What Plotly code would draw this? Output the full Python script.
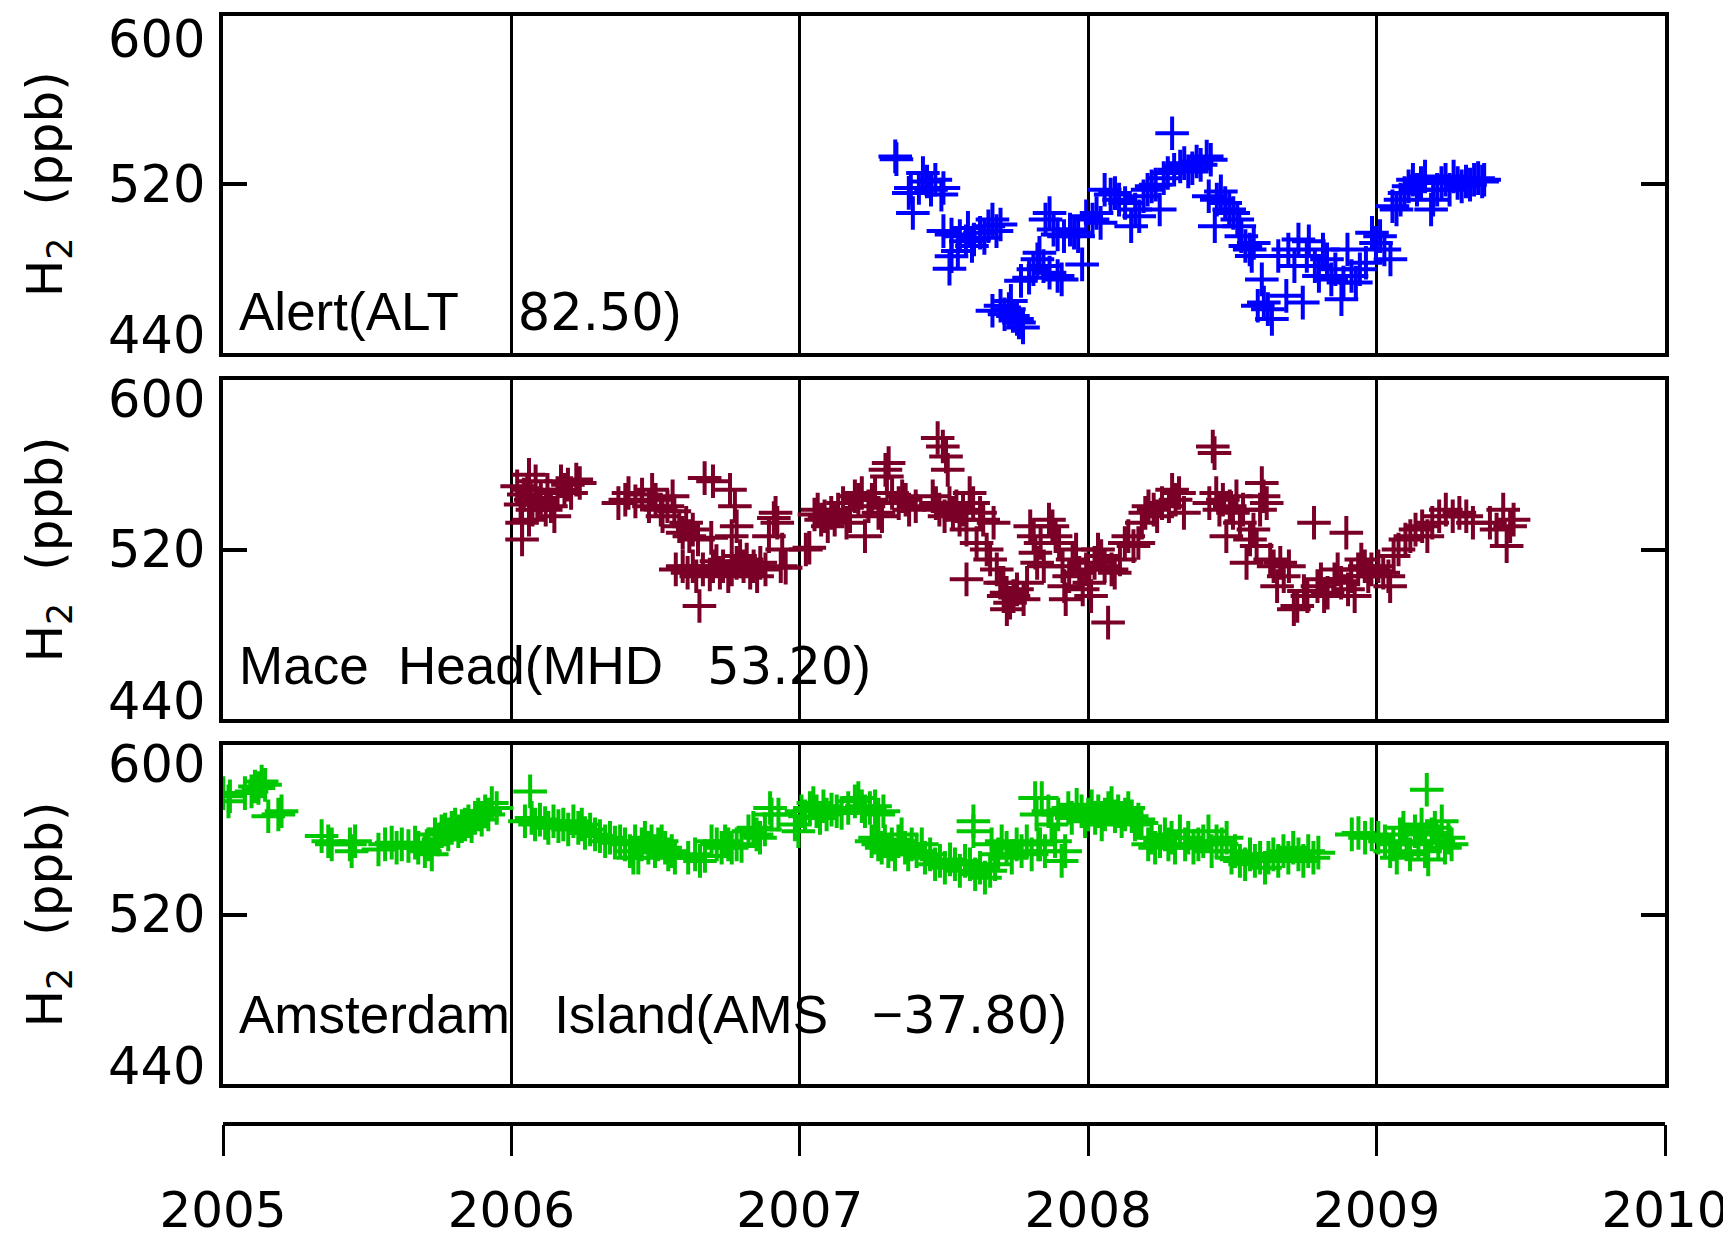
import plotly.graph_objects as go

# ---------------- data (decimal year, H2 ppb) ----------------
alt_year = [2007.335, 2007.331, 2007.385, 2007.378, 2007.427, 2007.441, 2007.470, 2007.491, 2007.392, 2007.413,
            2007.455, 2007.498, 2007.498, 2007.526, 2007.555, 2007.583, 2007.604, 2007.625, 2007.654, 2007.668,
            2007.696, 2007.526, 2007.519, 2007.548, 2007.597, 2007.576, 2007.640, 2007.682, 2007.668, 2007.696,
            2007.725, 2007.739, 2007.753, 2007.710, 2007.774, 2007.732, 2007.760, 2007.767, 2007.795, 2007.810,
            2007.824, 2007.831, 2007.845, 2007.866, 2007.894, 2007.908, 2007.852, 2007.866, 2007.880, 2007.894,
            2007.916, 2007.937, 2007.951, 2007.965, 2007.979, 2007.993, 2008.015, 2008.029, 2008.043, 2008.057,
            2008.078, 2008.093, 2008.107, 2008.128, 2008.149, 2008.163, 2008.177, 2008.192, 2008.206, 2008.220,
            2008.234, 2008.248, 2008.262, 2008.276, 2008.291, 2008.298, 2008.319, 2008.333, 2008.347, 2008.361,
            2008.376, 2008.390, 2008.411, 2008.425, 2008.418, 2008.446, 2008.439, 2008.460, 2008.475, 2008.489,
            2008.503, 2008.517, 2008.524, 2008.531, 2008.545, 2008.560, 2008.567, 2008.574, 2008.602, 2008.609,
            2008.623, 2008.637, 2008.588, 2008.659, 2008.687, 2008.694, 2008.715, 2008.729, 2008.744, 2008.758,
            2008.765, 2008.786, 2008.800, 2008.814, 2008.828, 2008.843, 2008.857, 2008.878, 2008.885, 2008.899,
            2008.913, 2008.928, 2008.942, 2008.963, 2008.984, 2008.998, 2009.012, 2009.027, 2009.048, 2009.055,
            2009.069, 2009.083, 2009.097, 2009.111, 2009.126, 2009.140, 2009.154, 2009.168, 2009.189, 2009.196,
            2009.210, 2009.225, 2009.239, 2009.253, 2009.267, 2009.281, 2009.295, 2009.310, 2009.324, 2009.338,
            2009.352, 2009.366, 2009.373]
alt_h2 = [531.9, 533.2, 518.2, 515.9, 525.3, 521.3, 522.1, 515.1, 506.4, 518.2,
          517.4, 518.2, 497.8, 496.2, 495.4, 499.3, 493.8, 497.0, 500.1, 503.3,
          500.9, 485.9, 480.0, 488.3, 490.7, 493.0, 494.6, 497.8, 460.0, 462.4,
          460.8, 457.6, 456.1, 458.4, 452.1, 464.7, 454.5, 474.2, 475.7, 479.7,
          484.4, 487.5, 481.2, 478.1, 476.5, 474.9, 503.3, 506.4, 498.5, 496.2,
          495.4, 498.5, 497.0, 495.4, 482.0, 504.8, 503.3, 506.4, 501.7, 517.4,
          515.1, 515.8, 512.7, 511.1, 500.1, 508.0, 504.8, 514.3, 517.4, 519.0,
          519.8, 508.0, 522.9, 525.3, 544.2, 526.9, 528.4, 530.0, 526.1, 527.6,
          530.8, 529.2, 533.1, 531.6, 514.3, 512.7, 500.1, 516.6, 511.1, 508.0,
          506.4, 503.3, 500.1, 495.4, 490.7, 489.1, 486.0, 492.2, 474.9, 463.9,
          460.8, 456.1, 462.4, 486.0, 467.1, 489.1, 481.2, 493.8, 463.9, 486.0,
          493.0, 481.2, 476.5, 489.1, 484.4, 474.9, 479.7, 465.5, 473.4, 489.1,
          476.5, 473.4, 479.7, 482.8, 497.0, 492.2, 495.4, 489.1, 484.4, 509.6,
          508.0, 512.7, 515.8, 519.0, 522.1, 517.4, 520.6, 523.7, 508.0, 512.7,
          517.4, 520.6, 522.1, 517.4, 523.7, 520.6, 519.0, 521.3, 519.8, 522.1,
          522.9, 521.3, 522.1]

mhd_year = [2006.020, 2006.032, 2006.043, 2006.055, 2006.061, 2006.067, 2006.073, 2006.084, 2006.090, 2006.102,
            2006.119, 2006.125, 2006.137, 2006.149, 2006.160, 2006.172, 2006.184, 2006.196, 2006.207, 2006.225,
            2006.237, 2006.037, 2006.061, 2006.037, 2006.371, 2006.395, 2006.406, 2006.430, 2006.453, 2006.477,
            2006.488, 2006.500, 2006.518, 2006.524, 2006.541, 2006.559, 2006.565, 2006.582, 2006.594, 2006.606,
            2006.617, 2006.629, 2006.647, 2006.670, 2006.693, 2006.699, 2006.758, 2006.764, 2006.775, 2006.781,
            2006.570, 2006.594, 2006.611, 2006.629, 2006.641, 2006.652, 2006.664, 2006.688, 2006.699, 2006.711,
            2006.723, 2006.734, 2006.752, 2006.764, 2006.781, 2006.793, 2006.805, 2006.816, 2006.828, 2006.840,
            2006.852, 2006.863, 2006.881, 2006.893, 2006.910, 2006.916, 2006.922, 2006.934, 2006.951, 2006.939,
            2007.021, 2007.033, 2007.051, 2007.062, 2007.074, 2007.086, 2007.097, 2007.109, 2007.121, 2007.133,
            2007.150, 2007.162, 2007.174, 2007.191, 2007.203, 2007.215, 2007.226, 2007.238, 2007.250, 2007.261,
            2007.273, 2007.285, 2007.297, 2007.302, 2007.308, 2007.320, 2007.343, 2007.355, 2007.367, 2007.379,
            2007.402, 2007.478, 2007.496, 2007.507, 2007.513, 2007.461, 2007.472, 2007.484, 2007.502, 2007.519,
            2007.531, 2007.543, 2007.554, 2007.566, 2007.578, 2007.589, 2007.601, 2007.613, 2007.625, 2007.636,
            2007.648, 2007.660, 2007.672, 2007.683, 2007.695, 2007.707, 2007.578, 2007.718, 2007.706, 2007.717,
            2007.729, 2007.741, 2007.753, 2007.776, 2007.788, 2007.799, 2007.811, 2007.817, 2007.823, 2007.835,
            2007.846, 2007.864, 2007.876, 2007.887, 2007.899, 2007.911, 2007.917, 2007.922, 2007.934, 2007.946,
            2007.958, 2007.969, 2007.981, 2007.993, 2008.004, 2008.010, 2008.022, 2008.034, 2008.045, 2008.057,
            2008.069, 2008.081, 2008.092, 2008.110, 2008.127, 2008.139, 2008.157, 2008.174, 2008.186, 2008.198,
            2008.209, 2008.227, 2008.239, 2008.256, 2008.280, 2008.291, 2008.303, 2008.315, 2008.332, 2008.432,
            2008.438, 2008.420, 2008.444, 2008.455, 2008.467, 2008.479, 2008.491, 2008.502, 2008.514, 2008.526,
            2008.537, 2008.549, 2008.561, 2008.573, 2008.584, 2008.596, 2008.602, 2008.608, 2008.619, 2008.631,
            2008.643, 2008.655, 2008.666, 2008.678, 2008.696, 2008.713, 2008.725, 2008.748, 2008.760, 2008.783,
            2008.795, 2008.807, 2008.818, 2008.830, 2008.854, 2008.865, 2008.877, 2008.895, 2008.901, 2008.912,
            2008.924, 2008.936, 2008.947, 2008.959, 2008.971, 2008.982, 2009.006, 2009.023, 2009.041, 2009.047,
            2009.059, 2009.076, 2009.100, 2009.117, 2009.135, 2009.158, 2009.176, 2009.193, 2009.217, 2009.240,
            2009.264, 2009.287, 2009.311, 2009.334, 2009.393, 2009.416, 2009.439, 2009.451, 2009.463, 2009.475]
mhd_h2 = [549.8, 541.2, 545.9, 548.2, 555.3, 543.5, 538.8, 552.2, 541.9, 544.3,
          538.8, 548.2, 540.4, 535.7, 546.7, 552.2, 548.2, 550.6, 546.7, 553.0,
          551.4, 532.6, 534.1, 524.7, 541.9, 543.5, 546.7, 542.7, 545.9, 540.4,
          548.2, 543.5, 538.8, 535.7, 540.4, 545.1, 538.0, 531.0, 527.9, 532.6,
          526.3, 529.4, 524.7, 553.7, 525.5, 552.2, 548.2, 526.3, 540.4, 531.0,
          510.6, 512.1, 509.0, 512.1, 507.4, 493.3, 510.6, 508.2, 512.1, 514.5,
          509.0, 512.1, 507.4, 510.6, 513.7, 516.9, 512.1, 515.3, 509.0, 512.1,
          507.4, 513.7, 510.6, 526.3, 534.9, 537.3, 532.6, 512.1, 511.4, 520.0,
          520.0, 520.8, 536.5, 538.8, 534.1, 535.7, 531.0, 537.3, 534.1, 538.8,
          541.9, 532.6, 535.7, 545.1, 543.5, 546.7, 526.3, 540.4, 543.5, 546.7,
          537.3, 535.7, 557.6, 554.5, 560.8, 546.7, 541.9, 545.1, 543.5, 538.8,
          540.4, 572.6, 568.6, 563.9, 557.6, 545.1, 541.9, 538.8, 535.7, 541.9,
          537.3, 540.4, 534.1, 538.8, 529.4, 546.7, 541.9, 523.1, 537.3, 534.1,
          520.0, 515.3, 532.6, 510.6, 504.3, 498.0, 505.9, 491.8, 504.3, 499.6,
          494.9, 498.0, 501.2, 496.5, 504.3, 531.0, 526.3, 518.5, 513.7, 523.1,
          512.1, 534.1, 531.0, 526.3, 523.1, 512.1, 502.7, 496.5, 507.4, 515.3,
          520.0, 509.0, 501.2, 510.6, 504.3, 498.0, 513.7, 520.0, 516.9, 512.1,
          485.5, 510.6, 509.0, 515.3, 523.1, 526.3, 521.6, 523.1, 532.6, 537.3,
          540.4, 538.8, 535.7, 541.9, 540.4, 548.2, 543.5, 546.7, 537.3, 568.6,
          565.5, 541.9, 546.7, 538.8, 543.5, 526.3, 540.4, 537.3, 545.1, 532.6,
          538.8, 513.7, 524.7, 529.4, 521.6, 538.8, 551.4, 545.1, 541.9, 515.3,
          512.1, 502.7, 513.7, 507.4, 512.1, 491.8, 493.3, 500.4, 498.0, 532.6,
          502.7, 505.9, 498.0, 499.6, 505.9, 510.6, 504.3, 527.9, 501.2, 507.4,
          498.0, 510.6, 515.3, 512.1, 507.4, 510.6, 512.1, 509.0, 507.4, 502.7,
          516.9, 520.0, 524.7, 526.3, 529.4, 531.0, 526.3, 532.6, 535.7, 538.8,
          535.7, 537.3, 535.7, 532.6, 532.6, 529.4, 538.8, 521.6, 531.0, 534.1]

ams_year = [2005.001, 2005.024, 2005.019, 2005.076, 2005.099, 2005.111, 2005.123, 2005.134, 2005.146, 2005.157,
            2005.192, 2005.203, 2005.342, 2005.365, 2005.377, 2005.440, 2005.458, 2005.446, 2005.539, 2005.562,
            2005.585, 2005.602, 2005.620, 2005.643, 2005.666, 2005.677, 2005.700, 2005.712, 2005.724, 2005.735,
            2005.747, 2005.758, 2005.770, 2005.781, 2005.793, 2005.805, 2005.816, 2005.828, 2005.839, 2005.851,
            2005.862, 2005.874, 2005.885, 2005.897, 2005.909, 2005.920, 2005.932, 2005.949, 2006.065, 2006.047,
            2006.070, 2006.082, 2006.099, 2006.117, 2006.128, 2006.146, 2006.163, 2006.180, 2006.197, 2006.215,
            2006.232, 2006.244, 2006.255, 2006.273, 2006.290, 2006.307, 2006.325, 2006.342, 2006.359, 2006.377,
            2006.394, 2006.411, 2006.423, 2006.429, 2006.440, 2006.452, 2006.463, 2006.475, 2006.486, 2006.498,
            2006.509, 2006.521, 2006.533, 2006.544, 2006.556, 2006.567, 2006.613, 2006.637, 2006.654, 2006.671,
            2006.694, 2006.712, 2006.729, 2006.741, 2006.752, 2006.764, 2006.781, 2006.798, 2006.822, 2006.839,
            2006.850, 2006.862, 2006.879, 2006.902, 2006.897, 2006.926, 2006.983, 2006.995, 2007.006, 2007.018,
            2007.035, 2007.047, 2007.058, 2007.070, 2007.082, 2007.093, 2007.110, 2007.128, 2007.145, 2007.168,
            2007.191, 2007.203, 2007.215, 2007.226, 2007.243, 2007.261, 2007.272, 2007.290, 2007.249, 2007.261,
            2007.272, 2007.284, 2007.295, 2007.307, 2007.319, 2007.330, 2007.342, 2007.353, 2007.365, 2007.376,
            2007.388, 2007.405, 2007.423, 2007.434, 2007.452, 2007.469, 2007.486, 2007.503, 2007.521, 2007.538,
            2007.555, 2007.573, 2007.590, 2007.602, 2007.602, 2007.608, 2007.625, 2007.642, 2007.660, 2007.677,
            2007.665, 2007.688, 2007.700, 2007.717, 2007.735, 2007.752, 2007.769, 2007.787, 2007.804, 2007.816,
            2007.821, 2007.833, 2007.827, 2007.839, 2007.850, 2007.862, 2007.873, 2007.885, 2007.896, 2007.908,
            2007.920, 2007.931, 2007.943, 2007.960, 2007.977, 2007.989, 2008.000, 2008.012, 2008.024, 2008.035,
            2008.047, 2008.058, 2008.070, 2008.081, 2008.093, 2008.104, 2008.116, 2008.128, 2008.139, 2008.151,
            2008.162, 2008.174, 2008.185, 2008.208, 2008.220, 2008.232, 2008.249, 2008.266, 2008.278, 2008.289,
            2008.301, 2008.318, 2008.336, 2008.347, 2008.365, 2008.382, 2008.399, 2008.417, 2008.428, 2008.445,
            2008.463, 2008.480, 2008.497, 2008.509, 2008.526, 2008.544, 2008.561, 2008.578, 2008.596, 2008.613,
            2008.625, 2008.642, 2008.659, 2008.677, 2008.694, 2008.711, 2008.729, 2008.746, 2008.763, 2008.781,
            2008.798, 2008.914, 2008.937, 2008.960, 2008.983, 2009.006, 2009.029, 2009.047, 2009.058, 2009.070,
            2009.081, 2009.093, 2009.104, 2009.116, 2009.133, 2009.145, 2009.156, 2009.168, 2009.179, 2009.174,
            2009.191, 2009.202, 2009.214, 2009.226, 2009.237, 2009.249, 2009.260]
ams_h2 = [577.3, 575.8, 573.4, 577.3, 578.1, 580.4, 579.7, 582.8, 581.2, 566.4,
          567.2, 568.7, 557.0, 554.6, 553.1, 553.1, 554.6, 549.9, 550.7, 553.1,
          553.9, 551.5, 553.1, 552.3, 553.9, 551.5, 549.9, 553.1, 548.4, 557.8,
          555.4, 559.3, 560.1, 557.8, 560.9, 562.5, 559.3, 561.7, 562.5, 564.0,
          561.7, 565.6, 567.2, 564.8, 568.7, 567.2, 572.6, 570.3, 578.1, 564.0,
          565.6, 562.5, 564.8, 563.2, 560.9, 564.0, 561.7, 562.5, 560.1, 564.0,
          560.9, 562.5, 558.5, 560.1, 557.8, 557.0, 554.6, 556.2, 553.9, 554.6,
          553.1, 549.9, 546.8, 554.6, 546.8, 553.1, 556.2, 551.5, 554.6, 549.9,
          553.1, 554.6, 551.5, 548.4, 549.9, 546.8, 546.8, 548.4, 545.3, 547.6,
          554.6, 553.1, 551.5, 554.6, 553.1, 551.5, 553.1, 552.3, 559.3, 560.9,
          557.8, 556.2, 560.1, 567.2, 570.3, 567.2, 562.5, 559.3, 568.7, 566.4,
          570.3, 572.6, 568.7, 565.6, 571.1, 567.2, 569.5, 568.7, 567.9, 570.3,
          573.4, 575.0, 571.1, 568.7, 570.3, 571.1, 567.2, 568.7, 554.6, 556.2,
          553.1, 551.5, 554.6, 549.9, 553.1, 548.4, 554.6, 557.8, 551.5, 548.4,
          553.1, 549.9, 553.1, 546.8, 548.4, 543.7, 545.3, 542.1, 546.0, 543.7,
          540.6, 545.3, 543.7, 564.0, 559.3, 539.0, 542.1, 537.4, 540.6, 543.7,
          553.1, 548.4, 554.6, 551.5, 546.8, 553.1, 549.9, 554.6, 548.4, 575.0,
          567.2, 553.1, 553.1, 575.0, 549.9, 568.7, 562.5, 554.6, 567.2, 545.3,
          549.9, 570.3, 565.6, 571.8, 568.7, 564.0, 567.2, 571.1, 565.6, 568.7,
          562.5, 567.2, 570.3, 572.6, 566.4, 568.7, 564.0, 567.2, 570.3, 566.4,
          562.5, 564.8, 563.2, 553.1, 556.2, 551.5, 554.6, 557.8, 553.1, 556.2,
          551.5, 559.3, 553.1, 556.2, 551.5, 553.1, 554.6, 559.3, 549.9, 554.6,
          553.1, 556.2, 546.8, 549.9, 545.3, 543.7, 548.4, 545.3, 546.8, 542.1,
          546.8, 548.4, 545.3, 549.9, 546.8, 551.5, 548.4, 545.3, 549.9, 546.8,
          549.2, 557.8, 558.5, 556.2, 557.8, 556.2, 554.6, 549.9, 553.1, 546.8,
          557.8, 560.9, 553.1, 548.4, 559.3, 554.6, 562.5, 549.9, 546.0, 578.9,
          557.8, 560.9, 554.6, 564.0, 551.5, 556.2, 553.1]

station_names = ["Alert", "Mace\u00a0\u00a0Head", "Amsterdam\u00a0\u00a0\u00a0Island"]
station_codes = ["ALT", "MHD", "AMS"]
station_signs = ["", "", "\u2212"]
station_lats = ["82.50", "53.20", "37.80"]
station_gaps = [4, 3, 3]
series_colors = ["#0000FF", "#7B0028", "#00C800"]

year_ticks = [2005, 2006, 2007, 2008, 2009, 2010]
h2_ticks = [440, 520, 600]
h2_range = [440, 600]
x_range = [2005, 2010]

# ---------------- layout geometry (div pixels; page body adds an 8px offset) ----------------
W, H = 1731, 1238
x_dom = [215 / W, 1657 / W]
panel_px = [(7.5, 345), (372, 711), (737, 1076)]
y_doms = [[1 - b / H, 1 - t / H] for (t, b) in panel_px]
axis4_y = 1 - 1113.5 / H
text_yshift = [9, 21, 37]
top_label_shift = [8, 12, 12]

xs = [alt_year, mhd_year, ams_year]
ys = [alt_h2, mhd_h2, ams_h2]

fig = go.Figure()
annotations = []
DIG = "font-family:DejaVu Sans;font-size:51px"

for i in range(3):
    n = "" if i == 0 else str(i + 1)
    fig.add_trace(go.Scatter(
        x=xs[i], y=ys[i], mode="markers", xaxis="x" + n, yaxis="y" + n,
        marker=dict(symbol="cross-thin", size=24, color=series_colors[i],
                    line=dict(width=4, color=series_colors[i])),
        showlegend=False, hoverinfo="skip"))
    fig.update_layout(**{
        "xaxis" + n: dict(domain=x_dom, range=x_range, anchor="y" + n, type="linear",
                          tickmode="array", tickvals=year_ticks, automargin=False,
                          showticklabels=False, ticks="", showgrid=True, gridcolor="black", gridwidth=3,
                          showline=True, linecolor="black", linewidth=3.5, mirror=True, zeroline=False),
        "yaxis" + n: dict(domain=y_doms[i], range=h2_range, anchor="x" + n, type="linear",
                          tickmode="array", tickvals=h2_ticks, automargin=False,
                          showticklabels=False, ticks="inside", ticklen=24, tickwidth=3.5, tickcolor="black",
                          showgrid=False, showline=True, linecolor="black", linewidth=3.5,
                          mirror="ticks", zeroline=False),
    })
    xd = "x" + n + " domain"
    yd = "y" + n + " domain"
    # y tick labels (shifted inward at the ends as in the original)
    for v, anc, sh in zip(h2_ticks, ["bottom", "middle", "top"], [-14, 0, top_label_shift[i]]):
        annotations.append(dict(xref=xd, x=0, xanchor="right", xshift=-16,
                                yref="y" + n, y=v, yanchor=anc, yshift=sh, showarrow=False,
                                text=str(v), font=dict(family="DejaVu Sans", size=51, color="black")))
    # y title
    annotations.append(dict(xref="paper", x=40 / W, xanchor="center", yref=yd, y=0.5, yanchor="middle",
                            showarrow=False, textangle=-90,
                            text="H<sub>2</sub>\u00a0\u00a0(ppb)",
                            font=dict(family="DejaVu Sans", size=50, color="black")))
    # station label
    label = (station_names[i] + "(" + station_codes[i] + "\u00a0" * station_gaps[i] + station_signs[i]
             + "<span style='" + DIG + "'>" + station_lats[i] + "</span>)")
    annotations.append(dict(xref=xd, x=0, xanchor="left", xshift=14,
                            yref=yd, y=0, yanchor="bottom", yshift=text_yshift[i], showarrow=False,
                            text=label, font=dict(family="Liberation Sans", size=53, color="black")))

# separate bottom time axis (its own empty subplot)
fig.add_trace(go.Scatter(x=[], y=[], xaxis="x4", yaxis="y4", mode="markers",
                         showlegend=False, hoverinfo="skip"))
fig.update_layout(
    xaxis4=dict(domain=x_dom, range=x_range, anchor="y4", type="linear", automargin=False,
                tickmode="array", tickvals=year_ticks, ticktext=[str(v) for v in year_ticks],
                ticks="outside", ticklen=31, tickwidth=3,
                tickcolor="black", showline=True, linecolor="black", linewidth=3.5, showgrid=False,
                zeroline=False, ticklabelstandoff=11,
                tickfont=dict(family="DejaVu Sans", size=50, color="black")),
    yaxis4=dict(domain=[axis4_y, axis4_y + 0.004], range=[0, 1], anchor="x4", type="linear",
                automargin=False, showline=False, showgrid=False, zeroline=False,
                showticklabels=False, ticks=""),
)

fig.update_layout(
    width=W, height=H, autosize=False,
    margin=dict(l=0, r=0, t=0, b=0, pad=0, autoexpand=False),
    paper_bgcolor="white", plot_bgcolor="white",
    annotations=annotations, showlegend=False,
)

fig.write_html("out.html")
